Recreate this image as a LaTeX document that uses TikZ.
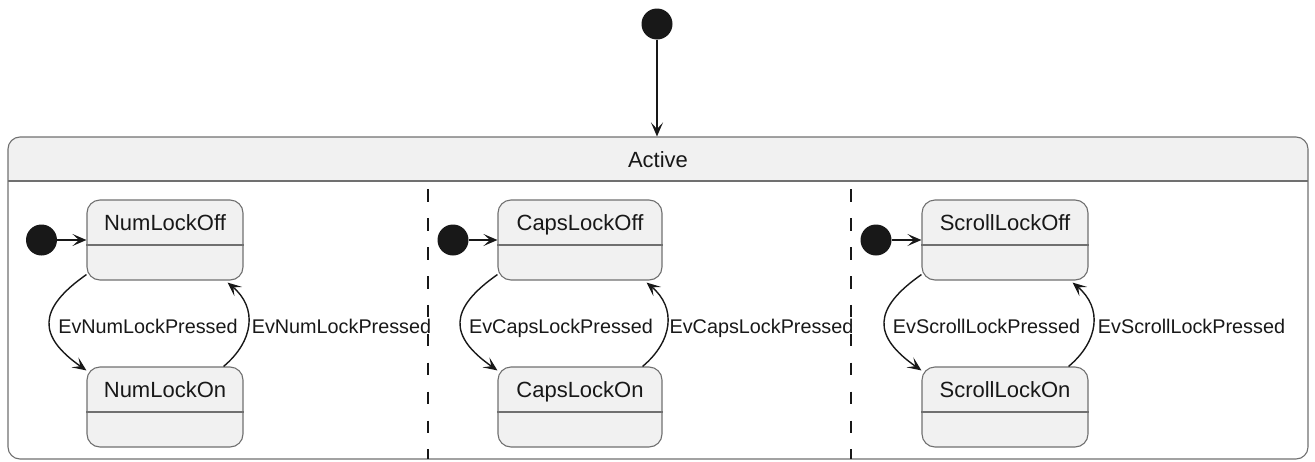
\documentclass[tikz,border=0pt]{standalone}
\usepackage{fontspec}
\setmainfont{Liberation Sans}
\usetikzlibrary{arrows.meta}
\definecolor{bordc}{HTML}{707070}
\definecolor{arrc}{HTML}{181818}
\definecolor{stfill}{HTML}{F1F1F1}
\newcommand\ustate[5]{%
  \node[stbox, minimum width=#4pt] (#1) at (#2,#3) {};
  \draw[bordc, line width=1.1pt] ([yshift=-45.5pt]#1.north west) -- ([yshift=-45.5pt]#1.north east);
  \node[nm] (#1t) at ([yshift=-31.5pt]#1.north) {#5};
}
\begin{document}
\begin{tikzpicture}[x=1pt,y=-1pt,
  stbox/.style={draw=bordc, fill=stfill, line width=1.1pt, rounded corners=13pt, minimum height=80pt, inner sep=0pt},
  nm/.style={font=\fontsize{22}{26}\selectfont, text=arrc, anchor=base, inner sep=0pt},
  lbl/.style={font=\fontsize{19.8}{23}\selectfont, text=arrc, anchor=base, inner sep=0pt},
  arr/.style={draw=arrc, line width=1.4pt, -{Stealth[length=14pt,width=12pt,inset=6.5pt]}},
  dot/.style={circle, fill=arrc, minimum size=31pt, inner sep=0pt},
  sep/.style={draw=arrc, line width=2.2pt, dash pattern=on 12.5pt off 16.4pt},
]
\useasboundingbox (0,0) rectangle (1315,461);
% composite state Active
\fill[stfill, rounded corners=12pt] (8,181) -- (8,137) -- (1308,137) -- (1308,181) -- cycle;
\fill[stfill] (8,160) rectangle (1308,181);
\node[draw=bordc, line width=1.1pt, rounded corners=12pt, minimum width=1300pt, minimum height=322pt, inner sep=0pt] (active) at (658,298) {};
\draw[bordc, line width=1.1pt] (8,181) -- (1308,181);
\node[nm] (activet) at (658,167.7) {Active};
\draw[sep] (428,189.3) -- (428,459);
\draw[sep] (851,189.3) -- (851,459);
% top initial
\node[dot] (i0) at (657,24) {};
\draw[arr] (i0) -- (i0 |- active.north);
% states
\ustate{off1}{165}{240}{156}{NumLockOff}
\ustate{on1}{165}{407}{156}{NumLockOn}
\ustate{off2}{580}{240}{164}{CapsLockOff}
\ustate{on2}{580}{407}{164}{CapsLockOn}
\ustate{off3}{1005}{240}{166}{ScrollLockOff}
\ustate{on3}{1005}{407}{166}{ScrollLockOn}
% initial dots
\node[dot] (i1) at (41.5,240) {};
\node[dot] (i2) at (453,240) {};
\node[dot] (i3) at (876,240) {};
\draw[arr] (i1) -- (off1);
\draw[arr] (i2) -- (off2);
\draw[arr] (i3) -- (off3);
% transitions
\foreach \k in {1,2,3}{
  \draw[arr] ([yshift=6pt]off\k.south west) to[out=215,in=145,looseness=1.6] ([yshift=-4pt]on\k.north west);
  \draw[arr] ([xshift=-20pt]on\k.north east) to[out=40,in=-40,looseness=1.2] ([xshift=-16pt,yshift=-2pt]off\k.south east);
}
% labels
\node[lbl] (l1a) at (148,333) {EvNumLockPressed};
\node[lbl] (l1b) at (341.5,333) {EvNumLockPressed};
\node[lbl] (l2a) at (561,333) {EvCapsLockPressed};
\node[lbl] (l2b) at (761.5,333) {EvCapsLockPressed};
\node[lbl] (l3a) at (986.5,333) {EvScrollLockPressed};
\node[lbl] (l3b) at (1191.5,333) {EvScrollLockPressed};
\end{tikzpicture}
\end{document}
